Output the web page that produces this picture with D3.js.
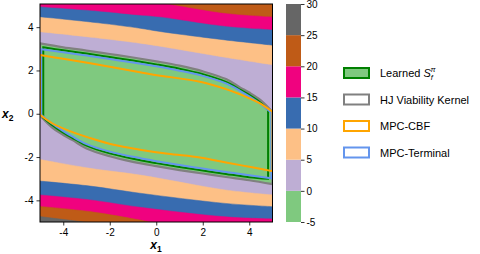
<!DOCTYPE html>
<html><head><meta charset="utf-8">
<script src="https://cdn.jsdelivr.net/npm/d3@7"></script>
<style>body{margin:0;background:#fff;} svg{display:block;} text{font-family:"Liberation Sans",Arial,sans-serif;fill:#000;}</style>
</head><body><svg id="c" width="480" height="254"></svg>
<script>
// ---------------- data ----------------
const levels = [-5, 0, 5, 10, 15, 20, 25, 30];
const levelColors = ["#7fc97f", "#beaed4", "#fdc086", "#386cb0", "#f0027f", "#bf5b17", "#666666"];
const xTicks = [-4, -2, 0, 2, 4];
const yTicks = [-4, -2, 0, 2, 4];
const cbTicks = [-5, 0, 5, 10, 15, 20, 25, 30];

// contour lines of the value function, upper side (level, points x1,x2)
const c5Top  = [[-5, 3.79], [-2.5, 3.5], [-0.7, 3.26], [0.16, 3.12], [2.96, 2.61], [5, 2.26]];
const c10Top = [[-5, 4.48], [-2.5, 4.2], [-0.7, 3.95], [0.16, 3.8], [2.96, 3.41], [5, 3.17]];
const c15Top = [[-5, 4.95], [-2.5, 4.75], [-0.7, 4.56], [0.16, 4.48], [2.96, 4.05], [5, 3.89]];
const c20Top = [[0.59, 5.07], [2.96, 4.65], [5, 4.48]];
// lower side
const c5Bot  = [[-5, -2.11], [-2.85, -2.52], [-0.7, -2.83], [2.96, -3.52], [5, -3.75]];
const c10Bot = [[-5, -3.11], [-2.85, -3.34], [-0.7, -3.67], [2.96, -4.14], [5, -4.29]];
const c15Bot = [[-5, -3.75], [-2.85, -3.98], [-0.7, -4.32], [2.96, -4.76], [5, -4.86]];
const c20Bot = [[-5, -4.28], [-2.85, -4.52], [-0.7, -4.91], [-0.3, -5.0]];
const c25Bot = [[-5, -4.75], [-3.1, -5.0]];

// safe-set boundaries
const hjTop = [[-5, 3.25], [-4, 3.07], [-3, 2.92], [-2, 2.76], [-1, 2.6], [0, 2.42], [1, 2.22], [2, 1.96], [3, 1.6], [3.6, 1.22], [4, 0.98], [4.5, 0.62], [5, 0.08]];
const hjBot = [[-5, -0.08], [-4.5, -0.62], [-4, -0.98], [-3.6, -1.22], [-3, -1.6], [-2, -1.96], [-1, -2.22], [0, -2.42], [1, -2.6], [2, -2.76], [3, -2.92], [4, -3.07], [5, -3.25]];
const learnedTop = [[-4.86, 3.07], [-4, 2.93], [-3, 2.78], [-2, 2.62], [-1, 2.46], [0, 2.28], [1, 2.08], [2, 1.83], [3, 1.47], [3.6, 1.12], [4, 0.87], [4.5, 0.5], [4.81, 0.18]];
const learnedBot = [[-4.86, -0.18], [-4.5, -0.5], [-4, -0.87], [-3.6, -1.12], [-3, -1.47], [-2, -1.83], [-1, -2.08], [0, -2.28], [1, -2.46], [2, -2.62], [3, -2.78], [4, -2.93], [4.81, -3.0]];
const terminalTop = [[-4.95, 2.98], [-4, 2.84], [-3, 2.69], [-2, 2.53], [-1, 2.37], [0, 2.19], [1, 1.99], [2, 1.75], [3, 1.4], [3.6, 1.06], [4, 0.8], [4.5, 0.44], [4.95, 0.05]];
const terminalBot = [[-4.95, -0.05], [-4.5, -0.44], [-4, -0.8], [-3.6, -1.06], [-3, -1.4], [-2, -1.75], [-1, -1.99], [0, -2.19], [1, -2.37], [2, -2.53], [3, -2.69], [4, -2.84], [4.95, -2.98]];
const cbfTop = [[-5, 2.71], [-4, 2.54], [-2.42, 2.25], [-0.7, 1.92], [0.16, 1.76], [1.88, 1.48], [3, 1.14], [3.6, 0.9], [4.46, 0.48], [5, 0.09]];
const cbfBot = [[-5, -0.05], [-4.46, -0.45], [-3.6, -0.85], [-2.85, -1.12], [-1.88, -1.42], [-0.7, -1.66], [0.5, -1.85], [1.88, -2.02], [3, -2.25], [4, -2.45], [5, -2.65]];

const legendLabels = ["Learned", "HJ Viability Kernel", "MPC-CBF", "MPC-Terminal"];
const legendStroke = ["#008000", "#808080", "#ffa500", "#6495ed"];
const legendFill = ["#7fc97f", "#ffffff", "#ffffff", "#ffffff"];

// ---------------- layout ----------------
const svg = d3.select("#c");
const L = 40, R = 272.5, T = 4, B = 222;
const x = d3.scaleLinear().domain([-5, 5]).range([L, R]);
const y = d3.scaleLinear().domain([-5, 5.07]).range([B, T]);
const [xmin, xmax] = x.domain(), [ymin, ymax] = y.domain();

svg.append("defs").append("clipPath").attr("id", "plotclip")
  .append("rect").attr("x", L).attr("y", T).attr("width", R - L).attr("height", B - T);

const smooth = d3.line().x(d => x(d[0])).y(d => y(d[1])).curve(d3.curveCatmullRom.alpha(0.5));
function joinPieces(pieces, close) {
  let s = pieces.map((p, i) => {
    const str = p.length > 1 ? smooth(p) : `M${x(p[0][0])},${y(p[0][1])}`;
    return i === 0 ? str : "L" + str.slice(1);
  }).join("");
  return close ? s + "Z" : s;
}

const g = svg.append("g").attr("clip-path", "url(#plotclip)");
const colorOf = lv => levelColors[levels.indexOf(lv)];
// base band (0..5)
g.append("rect").attr("x", L).attr("y", T).attr("width", R - L).attr("height", B - T).attr("fill", colorOf(0));
// upper bands
[[c5Top, 5], [c10Top, 10], [c15Top, 15], [c20Top, 20]].forEach(([pts, lv]) => {
  g.append("path").attr("fill", colorOf(lv)).attr("stroke", colorOf(lv)).attr("stroke-width", 0.5)
    .attr("d", joinPieces([pts, [[xmax, ymax + 0.5], [xmin, ymax + 0.5]]], true));
});
[[c5Bot, 5], [c10Bot, 10], [c15Bot, 15], [c20Bot, 20], [c25Bot, 25]].forEach(([pts, lv]) => {
  g.append("path").attr("fill", colorOf(lv)).attr("stroke", colorOf(lv)).attr("stroke-width", 0.5)
    .attr("d", joinPieces([pts, [[xmax, ymin - 0.5], [xmin, ymin - 0.5]]], true));
});
// green band (value < 0) inside HJ kernel
const hjPath = joinPieces([hjTop, hjBot.slice().reverse()], true);
g.append("path").attr("fill", colorOf(-5)).attr("d", hjPath);

function closedSet(top, bot) { return joinPieces([top, bot.slice().reverse()], true); }
g.append("path").attr("fill", "none").attr("stroke", legendStroke[1]).attr("stroke-width", 2.2).attr("d", hjPath);
g.append("path").attr("fill", "none").attr("stroke", legendStroke[0]).attr("stroke-width", 2).attr("d", closedSet(learnedTop, learnedBot));
g.append("path").attr("fill", "none").attr("stroke", legendStroke[3]).attr("stroke-width", 2).attr("d", closedSet(terminalTop, terminalBot));
g.append("path").attr("fill", "none").attr("stroke", legendStroke[2]).attr("stroke-width", 2).attr("d", closedSet(cbfTop, cbfBot));

// frame
svg.append("rect").attr("x", L).attr("y", T).attr("width", R - L).attr("height", B - T)
  .attr("fill", "none").attr("stroke", "#000").attr("stroke-width", 1);

// axes
const xa = svg.append("g").attr("transform", `translate(0,${B})`)
  .call(d3.axisBottom(x).tickValues(xTicks).tickSize(3.5).tickPadding(3).tickFormat(d => String(d)));
const ya = svg.append("g").attr("transform", `translate(${L},0)`)
  .call(d3.axisLeft(y).tickValues(yTicks).tickSize(3.5).tickPadding(3).tickFormat(d => String(d)));
[xa, ya].forEach(a => {
  a.select(".domain").remove();
  a.selectAll("text").attr("font-size", 10).attr("font-family", "Liberation Sans, Arial, sans-serif").attr("fill", "#000");
  a.selectAll("line").attr("stroke", "#000").attr("stroke-width", 0.8);
});

// axis labels
const xl = svg.append("text").attr("x", 156).attr("y", 249).attr("text-anchor", "middle").attr("font-size", 12).attr("font-weight", "bold");
xl.append("tspan").attr("font-style", "italic").text("x");
xl.append("tspan").attr("font-size", 8.5).attr("dy", 3).text("1");
const yl = svg.append("text").attr("x", 2).attr("y", 118).attr("font-size", 12).attr("font-weight", "bold");
yl.append("tspan").attr("font-style", "italic").text("x");
yl.append("tspan").attr("font-size", 8.5).attr("dy", 3).text("2");

// colorbar
const cbX = 286, cbW = 15;
const cy = d3.scaleLinear().domain([-5, 30]).range([B, T]);
const cb = svg.append("g");
levelColors.forEach((c, i) => {
  cb.append("rect").attr("x", cbX).attr("y", cy(levels[i + 1])).attr("width", cbW)
    .attr("height", cy(levels[i]) - cy(levels[i + 1])).attr("fill", c);
});
const cba = svg.append("g").attr("transform", `translate(${cbX + cbW},0)`)
  .call(d3.axisRight(cy).tickValues(cbTicks).tickSize(3.5).tickPadding(2).tickFormat(d => String(d)));
cba.select(".domain").remove();
cba.selectAll("text").attr("font-size", 10).attr("font-family", "Liberation Sans, Arial, sans-serif").attr("fill", "#000");
cba.selectAll("line").attr("stroke", "#000").attr("stroke-width", 0.8);

// legend
const lg = svg.append("g");
legendLabels.forEach((lab, i) => {
  const yy = 73 + i * 26.5;
  lg.append("rect").attr("x", 344).attr("y", yy - 5).attr("width", 25).attr("height", 10)
    .attr("fill", legendFill[i]).attr("stroke", legendStroke[i]).attr("stroke-width", 2);
  const t = lg.append("text").attr("x", 380).attr("y", yy + 4).attr("font-size", 11).text(lab);
  if (i === 0) {
    t.append("tspan").text(" ");
    t.append("tspan").attr("font-style", "italic").text("S");
    t.append("tspan").attr("font-style", "italic").attr("font-size", 7.5).attr("dy", 3).text("f");
    t.append("tspan").attr("font-style", "italic").attr("font-size", 7.5).attr("dx", -2.5).attr("dy", -8).text("π");
  }
});
</script></body></html>
